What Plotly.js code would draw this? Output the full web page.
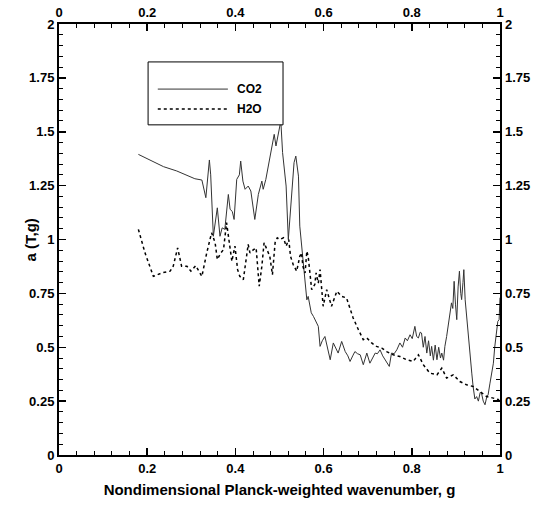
<!DOCTYPE html>
<html><head><meta charset="utf-8">
<script src="https://cdn.plot.ly/plotly-3.0.1.min.js"></script>
<style>body{margin:0;background:#fff}#plot{width:539px;height:505px}</style>
</head><body><div id="plot"></div>
<script>
const co2G = [0.18,0.237,0.267,0.308,0.324,0.333,0.341,0.344,0.35,0.355,0.359,0.365,0.37,0.376,0.384,0.388,0.393,0.397,0.403,0.409,0.412,0.417,0.422,0.429,0.435,0.444,0.452,0.46,0.463,0.469,0.477,0.482,0.488,0.492,0.497,0.503,0.507,0.515,0.52,0.528,0.533,0.537,0.543,0.546,0.553,0.558,0.562,0.565,0.572,0.577,0.583,0.588,0.592,0.597,0.603,0.609,0.615,0.622,0.628,0.633,0.641,0.649,0.655,0.66,0.666,0.671,0.677,0.683,0.69,0.698,0.705,0.711,0.717,0.722,0.728,0.734,0.739,0.744,0.749,0.754,0.76,0.766,0.773,0.779,0.785,0.79,0.796,0.801,0.807,0.811,0.815,0.819,0.822,0.826,0.83,0.834,0.838,0.842,0.845,0.849,0.853,0.857,0.861,0.865,0.868,0.872,0.875,0.879,0.883,0.887,0.89,0.893,0.896,0.899,0.902,0.905,0.908,0.911,0.913,0.916,0.918,0.921,0.924,0.928,0.932,0.936,0.939,0.943,0.947,0.951,0.955,0.958,0.962,0.966,0.97,0.973,0.977,0.981,0.985,0.988,0.992,0.995,0.998,1.0];
const co2A = [1.395,1.338,1.318,1.282,1.276,1.194,1.369,1.30,1.015,1.10,1.147,1.015,1.054,1.047,1.209,1.14,1.13,1.093,1.279,1.30,1.364,1.271,1.233,1.248,1.225,1.093,1.209,1.271,1.233,1.279,1.372,1.434,1.488,1.434,1.496,1.55,1.403,1.248,1.0,1.233,1.357,1.387,1.294,1.062,0.922,0.829,0.72,0.736,0.66,0.643,0.62,0.597,0.504,0.53,0.55,0.49,0.442,0.52,0.49,0.473,0.527,0.48,0.46,0.434,0.46,0.48,0.47,0.465,0.419,0.473,0.426,0.45,0.473,0.47,0.488,0.46,0.442,0.43,0.411,0.473,0.47,0.488,0.52,0.50,0.543,0.53,0.558,0.54,0.597,0.55,0.543,0.57,0.566,0.50,0.55,0.473,0.53,0.46,0.504,0.44,0.51,0.442,0.50,0.45,0.473,0.44,0.504,0.55,0.613,0.65,0.706,0.68,0.806,0.70,0.628,0.78,0.853,0.75,0.721,0.80,0.86,0.72,0.659,0.56,0.473,0.38,0.318,0.26,0.271,0.25,0.29,0.287,0.25,0.233,0.27,0.279,0.33,0.38,0.426,0.50,0.581,0.62,0.628,0.73];
const h2oG = [0.18,0.195,0.214,0.233,0.252,0.259,0.269,0.278,0.29,0.299,0.31,0.324,0.335,0.346,0.354,0.359,0.367,0.373,0.38,0.385,0.392,0.399,0.405,0.41,0.418,0.429,0.433,0.441,0.447,0.454,0.46,0.465,0.471,0.478,0.484,0.49,0.495,0.501,0.509,0.515,0.521,0.525,0.531,0.539,0.546,0.55,0.553,0.558,0.562,0.565,0.573,0.58,0.583,0.588,0.592,0.599,0.607,0.611,0.618,0.63,0.641,0.652,0.66,0.667,0.679,0.69,0.698,0.709,0.72,0.732,0.743,0.758,0.773,0.788,0.803,0.815,0.826,0.841,0.857,0.868,0.879,0.894,0.909,0.924,0.939,0.955,0.97,0.985,0.998];
const h2oA = [1.047,0.938,0.829,0.845,0.853,0.876,0.961,0.876,0.876,0.853,0.879,0.829,0.938,1.031,0.985,0.907,0.938,0.953,1.078,1.0,0.899,0.969,0.86,0.829,0.814,0.977,0.938,0.953,0.961,0.783,0.876,0.985,0.953,0.922,0.837,0.985,1.008,1.0,1.008,0.969,1.0,0.922,0.884,0.853,0.922,0.938,0.876,0.845,0.946,0.922,0.767,0.791,0.845,0.798,0.86,0.69,0.767,0.736,0.69,0.76,0.736,0.729,0.674,0.636,0.581,0.535,0.543,0.52,0.504,0.496,0.48,0.465,0.457,0.442,0.434,0.465,0.419,0.38,0.372,0.403,0.357,0.372,0.341,0.326,0.318,0.294,0.271,0.264,0.256];
const xTickVals = [0,0.2,0.4,0.6,0.8,1];
const xTickText = ["0","0.2","0.4","0.6","0.8","1"];
const yTickVals = [0,0.25,0.5,0.75,1,1.25,1.5,1.75,2];
const yTickText = ["0","0.25","0.5","0.75","1","1.25","1.5","1.75","2"];
const seriesNames = ["CO2","H2O"];
const xTitle = "Nondimensional Planck-weighted wavenumber, g";
const yTitle = "a (T,g)";

const FAM = "Liberation Sans, Arial, sans-serif";
const F = {family:FAM, size:13, color:"#000", weight:"bold"};
const axBase = {showgrid:false, zeroline:false, tickfont:F, tickmode:"array", fixedrange:true};
const lineAx = {showline:true, linecolor:"#000", linewidth:2, mirror:"allticks",
  ticks:"inside", ticklen:7, tickwidth:1.5, tickcolor:"#000"};
const xa = Object.assign({}, axBase, {range:[0,1], tickvals:xTickVals, ticktext:xTickText});
const ya = Object.assign({}, axBase, {range:[0,2], tickvals:yTickVals, ticktext:yTickText});

const data = [
  {x:co2G, y:co2A, name:seriesNames[0], type:"scatter", mode:"lines", line:{color:"#333", width:1}, xaxis:"x", yaxis:"y", showlegend:false},
  {x:h2oG, y:h2oA, name:seriesNames[1], type:"scatter", mode:"lines", line:{color:"#000", width:1.5, dash:"dot"}, xaxis:"x", yaxis:"y", showlegend:false},
  {x:co2G, y:co2A, type:"scatter", mode:"lines", line:{color:"rgba(0,0,0,0)", width:0}, xaxis:"x2", yaxis:"y2", showlegend:false, hoverinfo:"skip"}
];

const layout = {
  width:539, height:505, margin:{l:59, r:39, t:24, b:50},
  paper_bgcolor:"#fff", plot_bgcolor:"#fff", showlegend:false,
  xaxis: Object.assign({}, xa, lineAx, {
    minor:{dtick:0.04, tick0:0, ticks:"inside", ticklen:4, tickwidth:1, tickcolor:"#000"},
    title:{text:xTitle, font:{family:FAM, size:15, color:"#000", weight:"bold"}, standoff:10}}),
  yaxis: Object.assign({}, ya, lineAx, {
    minor:{dtick:0.05, tick0:0, ticks:"inside", ticklen:4, tickwidth:1, tickcolor:"#000"}}),
  xaxis2: Object.assign({}, xa, {overlaying:"x", side:"top", anchor:"y2", showline:false, ticks:"", ticklabelstandoff:3}),
  yaxis2: Object.assign({}, ya, {overlaying:"y", side:"right", anchor:"x2", showline:false, ticks:"", ticklabelstandoff:4}),
  shapes:[
    {type:"rect", xref:"paper", yref:"paper", x0:0.202, x1:0.508, y0:0.766, y1:0.912, line:{color:"#000", width:1}, fillcolor:"#fff"},
    {type:"line", xref:"paper", yref:"paper", x0:0.224, x1:0.383, y0:0.849, y1:0.849, line:{color:"#333", width:1}},
    {type:"line", xref:"paper", yref:"paper", x0:0.224, x1:0.383, y0:0.803, y1:0.803, line:{color:"#000", width:1.5, dash:"dot"}}
  ],
  annotations:[
    {xref:"paper", yref:"paper", x:0.399, y:0.849, xanchor:"left", yanchor:"middle", text:seriesNames[0], showarrow:false, font:{family:FAM, size:12, color:"#000", weight:"bold"}},
    {xref:"paper", yref:"paper", x:0.399, y:0.803, xanchor:"left", yanchor:"middle", text:seriesNames[1], showarrow:false, font:{family:FAM, size:12, color:"#000", weight:"bold"}},
    {xref:"paper", yref:"paper", x:-0.0635, y:0.5, xanchor:"center", yanchor:"middle", textangle:-90, text:yTitle, showarrow:false, font:{family:FAM, size:15, color:"#000", weight:"bold"}}
  ]
};
Plotly.newPlot("plot", data, layout, {staticPlot:true});
</script></body></html>
